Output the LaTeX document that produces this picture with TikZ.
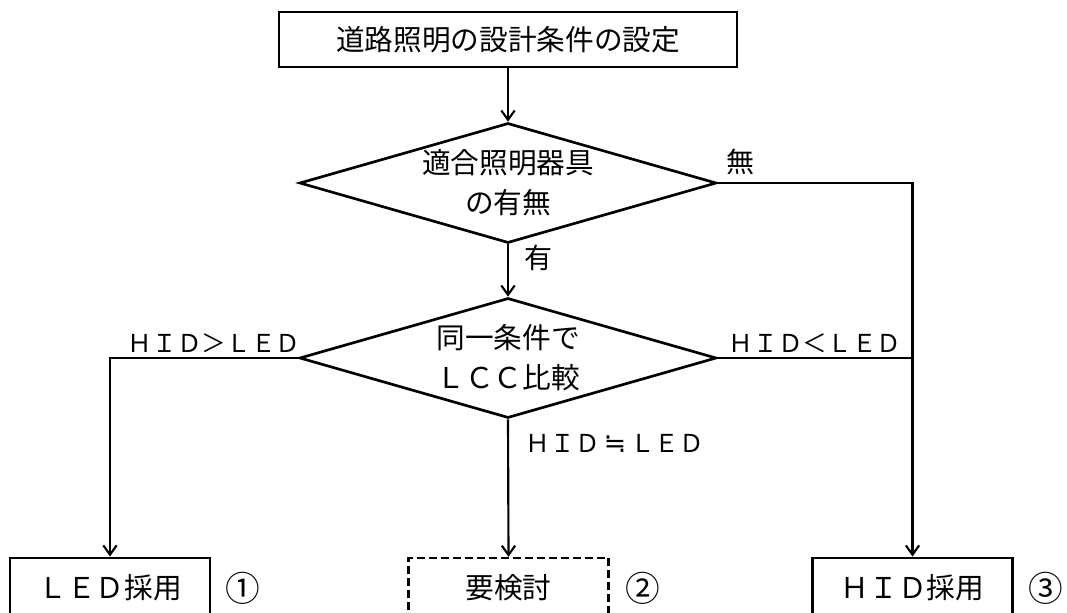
\documentclass[tikz,border=0pt]{standalone}
\usepackage{fontspec}
\setmainfont{Noto Sans CJK JP}
\newfontfamily\symfont{DejaVu Sans}
\usetikzlibrary{shapes.geometric,arrows.meta}
\tikzset{
  box/.style={draw, line width=2.2pt, rectangle, inner sep=0pt, align=center,
    font=\fontsize{21.5}{30}\selectfont},
  dbox/.style={box, line width=1.8pt, dash pattern=on 6pt off 3pt},
  dia/.style={draw, line width=2pt, diamond, aspect=3.47, inner sep=0pt,
    minimum width=312.75pt, minimum height=90pt, align=center,
    font=\fontsize{21.5}{30}\selectfont},
  conn/.style={line width=1.6pt},
  arr/.style={conn, -{Straight Barb[length=7pt,width=10pt]}},
  lab/.style={inner sep=0pt, font=\fontsize{18.5}{22}\selectfont},
  biglab/.style={inner sep=0pt, font=\fontsize{21}{24}\selectfont},
  numlab/.style={inner sep=0pt, font=\fontsize{26}{30}\selectfont},
}
\begin{document}
\begin{tikzpicture}[x=0.75pt,y=-0.75pt]
\clip (0,0) rectangle (1067,612);
\fill[white] (0,0) rectangle (1067,612);
% nodes
\node[box, minimum width=343.5pt, minimum height=41.25pt] (top) at (508,39.5) {道路照明の設計条件の設定};
\node[dia] (d1) at (508,183) {適合照明器具\\の有無};
\node[dia] (d2) at (508,358) {同一条件で\\ＬＣＣ比較};
\node[box, minimum width=150pt, minimum height=45pt] (led) at (110,588) {ＬＥＤ採用};
\node[dbox, minimum width=150pt, minimum height=45pt] (rev) at (508.5,588) {要検討};
\node[box, minimum width=150pt, minimum height=45pt] (hid) at (912.5,588) {ＨＩＤ採用};
\coordinate (r1) at (912.5,183);
\coordinate (r2) at (912.5,358);
\coordinate (l2) at (110,358);
% connectors
\draw[arr] (top) -- (d1);
\draw[arr] (d1) -- (d2);
\draw[arr] (d1.east) -- (r1) -- (hid.north);
\draw[conn] (d2.east) -- (r2);
\draw[arr] (d2.west) -- (l2) -- (led.north);
\draw[arr] (d2.south) -- (rev.north);
% labels
\node[biglab] (lnone) at (740,162) {無};
\node[biglab] (lyes) at (538,258) {有};
\node[lab] (lgt) at (214,343) {ＨＩＤ＞ＬＥＤ};
\node[lab] (llt) at (815,343) {ＨＩＤ＜ＬＥＤ};
\node[lab] (leq) at (615,443) {ＨＩＤ\,{\symfont\fontsize{20}{22}\selectfont ≒}\,ＬＥＤ};
\node[numlab] (n1) at (243,588) {①};
\node[numlab] (n2) at (643,588) {②};
\node[numlab] (n3) at (1046,588) {③};
\end{tikzpicture}
\end{document}
